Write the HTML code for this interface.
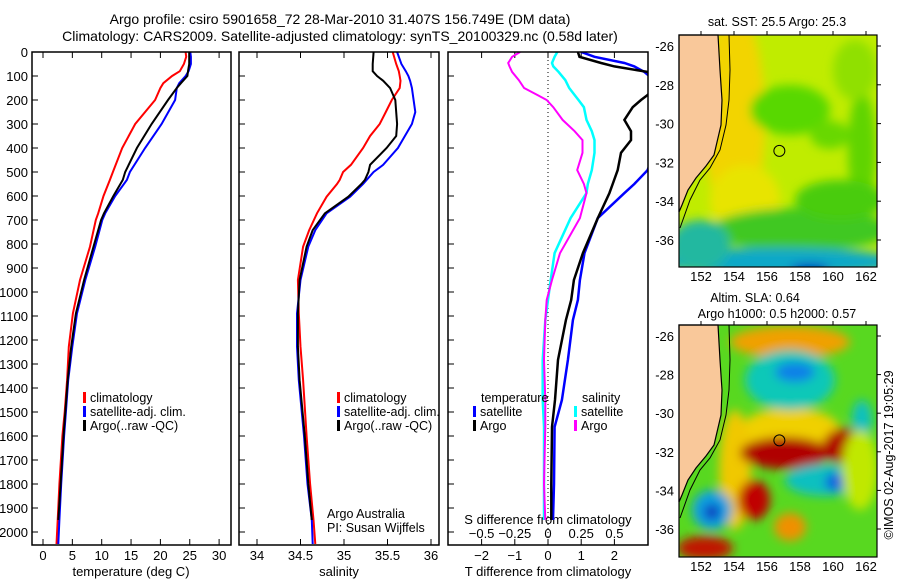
<!DOCTYPE html>
<html><head><meta charset="utf-8">
<style>
html,body{margin:0;padding:0;background:#fff;}
svg{display:block;font-family:"Liberation Sans",sans-serif;}
text{font-size:12.5px;fill:#000;}
</style></head>
<body>
<svg id="chart" width="900" height="580" viewBox="0 0 900 580" xmlns="http://www.w3.org/2000/svg">
<defs>
<filter id="blur6" x="-20%" y="-20%" width="140%" height="140%"><feGaussianBlur stdDeviation="5"/></filter>
<clipPath id="clipP1"><rect x="32" y="52" width="199" height="493"/></clipPath>
<clipPath id="clipP2"><rect x="239" y="52" width="200" height="493"/></clipPath>
<clipPath id="clipP3"><rect x="448" y="52" width="200" height="493"/></clipPath>
<clipPath id="clipM1"><rect x="679" y="35" width="198" height="232"/></clipPath>
<clipPath id="clipM2"><rect x="679" y="325" width="198" height="232"/></clipPath>
</defs>
<text x="340" y="24" text-anchor="middle" style="font-size:14px">Argo profile: csiro 5901658_72 28-Mar-2010 31.407S 156.749E (DM data)</text>
<text x="340" y="41" text-anchor="middle" style="font-size:14px">Climatology: CARS2009. Satellite-adjusted climatology: synTS_20100329.nc (0.58d later)</text>

<g id="maps">
 <g clip-path="url(#clipM1)">
  <rect x="679" y="35" width="198" height="232" fill="#c0ec00"/>
  <g filter="url(#blur6)">
   <ellipse cx="735" cy="120" rx="30" ry="110" fill="#f2d400"/>
   <ellipse cx="745" cy="200" rx="35" ry="35" fill="#e8e400"/>
   <ellipse cx="790" cy="110" rx="40" ry="25" fill="#58d800"/>
   <ellipse cx="830" cy="135" rx="20" ry="14" fill="#68d800"/>
   <ellipse cx="862" cy="150" rx="14" ry="60" fill="#60d400"/>
   <ellipse cx="855" cy="70" rx="22" ry="30" fill="#90e000"/>
   <ellipse cx="800" cy="230" rx="90" ry="22" fill="#40c820"/>
   <ellipse cx="840" cy="200" rx="45" ry="20" fill="#48cc10"/>
   <ellipse cx="780" cy="262" rx="120" ry="14" fill="#10a8c8"/>
   <ellipse cx="700" cy="245" rx="30" ry="25" fill="#20b8a0"/>
   <ellipse cx="810" cy="270" rx="20" ry="6" fill="#0030c0"/>
  </g>
 </g>
 <g clip-path="url(#clipM2)">
  <rect x="679" y="325" width="198" height="232" fill="#58d820"/>
  <g filter="url(#blur6)">
   <ellipse cx="790" cy="342" rx="60" ry="16" fill="#f0a000"/>
   <ellipse cx="790" cy="430" rx="50" ry="22" fill="#f0d000"/>
   <ellipse cx="735" cy="470" rx="16" ry="60" fill="#f0c800"/>
   <ellipse cx="790" cy="380" rx="45" ry="30" fill="#10c8b8"/>
   <ellipse cx="795" cy="372" rx="20" ry="10" fill="#1080e8"/>
   <ellipse cx="785" cy="453" rx="45" ry="16" fill="#b00000"/>
   <ellipse cx="845" cy="446" rx="22" ry="18" fill="#b00000"/>
   <ellipse cx="825" cy="480" rx="40" ry="16" fill="#10c0c0"/>
   <ellipse cx="835" cy="482" rx="10" ry="9" fill="#1060e0"/>
   <ellipse cx="754" cy="500" rx="16" ry="20" fill="#c00000"/>
   <ellipse cx="712" cy="510" rx="20" ry="20" fill="#10a0e0"/>
   <ellipse cx="712" cy="512" rx="8" ry="8" fill="#1030c0"/>
   <ellipse cx="790" cy="527" rx="16" ry="14" fill="#f09000"/>
   <ellipse cx="705" cy="548" rx="28" ry="12" fill="#c01800"/>
   <ellipse cx="862" cy="420" rx="10" ry="20" fill="#10c0c0"/>
   <ellipse cx="860" cy="470" rx="18" ry="40" fill="#c0e800"/>
  </g>
 </g>
</g>
<g id="plots"></g>
<text transform="translate(893,455) rotate(-90)" text-anchor="middle">©IMOS 02-Aug-2017 19:05:29</text>
</svg>
<script>
// ---------- data ----------
const tempDepth = [0,20,50,80,100,130,150,200,300,400,500,533,600,672,700,811,950,1089,1228,1367,1500,1600,1800,1950,2050];
const tempClim  = [24.3,24.4,24.0,23.3,22.0,20.5,20.0,19.1,15.7,13.5,11.9,11.4,10.3,9.4,9.0,8.0,6.3,5.1,4.4,4.1,3.7,3.3,2.8,2.5,2.3];
const tempSat   = [25.1,25.2,25.2,24.8,24.3,23.2,22.8,22.5,20.2,17.4,14.8,14.3,12.3,10.6,10.1,8.9,7.2,5.8,5.0,4.3,3.9,3.6,3.1,2.8,2.6];
const tempArgo  = [24.9,24.9,24.9,24.7,24.6,23.5,22.8,21.3,18.5,16.0,14.0,13.6,12.0,10.4,9.9,8.6,7.0,5.6,4.8,4.2,3.8,3.5,3.0,2.6,null];
const salDepth = [0,50,80,100,120,150,200,250,300,350,400,470,500,533,550,603,672,742,811,950,1089,1228,1367,1600,1800,1950,2050];
const salClim  = [35.56,35.6,35.63,35.64,35.65,35.64,35.55,35.48,35.41,35.3,35.22,35.08,34.99,34.95,34.92,34.8,34.69,34.6,34.53,34.47,34.48,34.5,34.53,34.57,34.61,34.65,34.67];
const salSat   = [35.61,35.66,35.71,35.74,35.76,35.78,35.8,35.82,35.78,35.7,35.62,35.45,35.34,35.26,35.22,35.07,34.8,34.67,34.59,34.5,34.46,34.46,34.48,34.54,34.58,34.63,34.64];
const salArgo  = [35.34,35.33,35.33,35.38,35.45,35.53,35.59,35.6,35.61,35.6,35.49,35.3,35.28,35.24,35.2,35.05,34.78,34.64,34.57,34.49,34.47,34.47,34.49,34.55,34.59,34.63,null];
const diffDepth = [0,20,46,60,83,117,150,179,200,230,283,330,367,420,492,550,588,692,838,950,1033,1117,1283,1450,1562,1800,1950];
const dTSat  = [1.0,1.4,2.3,2.6,2.9,3.2,3.6,3.6,3.6,3.6,3.6,3.5,3.4,3.2,3.0,2.6,2.3,1.5,1.1,0.96,0.9,0.75,0.6,0.42,0.2,0.18,0.15];
const dTArgo = [0.9,0.95,1.6,2.0,3.0,3.2,3.2,3.0,2.8,2.55,2.3,2.5,2.5,2.2,2.1,1.95,1.85,1.5,1.05,0.78,0.7,0.54,0.3,0.21,0.12,0.1,0.1];
const dSSat  = [0.07,0.05,0.03,0.04,0.08,0.13,0.16,0.2,0.23,0.27,0.29,0.33,0.35,0.35,0.33,0.3,0.29,0.17,0.05,0.02,0.0,-0.02,-0.04,-0.04,-0.03,-0.03,-0.03];
const dSArgo = [-0.21,-0.27,-0.3,-0.29,-0.27,-0.22,-0.18,-0.08,-0.01,0.04,0.11,0.2,0.26,0.26,0.22,0.27,0.29,0.24,0.09,0.03,-0.01,-0.02,-0.03,-0.02,-0.02,-0.03,-0.02];
const depthTicks = [0,100,200,300,400,500,600,700,800,900,1000,1100,1200,1300,1400,1500,1600,1700,1800,1900,2000];
const tempTicks = [0,5,10,15,20,25,30];
const salTicks = [34,34.5,35,35.5,36];
const dTTicks = [-2,-1,0,1,2];
const dSTicks = [-0.5,-0.25,0,0.25,0.5];
const dSTickLabels = ["-0.5","-0.25","0","0.25","0.5"];
const lonTicks = [152,154,156,158,160,162];
const latTicks = [-26,-28,-30,-32,-34,-36];
const argoPos = [156.749,-31.407];

// ---------- axis functions ----------
const yD = d => 52 + d*0.24;
const xT = t => 43 + t*5.87;
const xS = s => 257 + (s-34)*87;
const xDT = t => 548 + t*33.2;
const xDS = s => 548 + s*132.8;
const mLon = l => 701 + (l-152)*16.5;
const mLat1 = l => 46 + (-26 - l)*19.4;
const mLat2 = l => 336 + (-26 - l)*19.3;

const NS = "http://www.w3.org/2000/svg";
const root = document.getElementById('plots');
function mk(tag, attrs, parent){const e=document.createElementNS(NS,tag);for(const k in attrs)e.setAttribute(k,attrs[k]);(parent||root).appendChild(e);return e;}
function txt(s,x,y,anchor,parent,size){const e=mk('text',{x:x,y:y,'text-anchor':anchor||'start'},parent);if(size)e.style.fontSize=size;e.textContent=s;return e;}
function line(xs, depths, fx, color, w, clip, name){
  let d='';let pen=false;
  for(let i=0;i<depths.length;i++){ if(xs[i]==null){pen=false;continue;} d+=(pen?'L':'M')+fx(xs[i]).toFixed(1)+','+yD(depths[i]).toFixed(1); pen=true;}
  const p=mk('path',{d:d,fill:'none',stroke:color,'stroke-width':w,'clip-path':'url(#'+clip+')'});
  
  
  return p;
}
function frame(x,y,w,h,name){const r=mk('rect',{x:x,y:y,width:w,height:h,fill:'none',stroke:'#000','stroke-width':1.5});
  
  }
function legendItem(x,y,color,label,g){mk('rect',{x:x,y:y-10,width:3,height:11,fill:color},g);txt(label,x+7,y,'start',g);}

// panel 1
const g1=mk('g',{});


depthTicks.forEach(d=>{mk('line',{x1:32,x2:38,y1:yD(d),y2:yD(d),stroke:'#000'},g1);mk('line',{x1:239,x2:245,y1:yD(d),y2:yD(d),stroke:'#000'},g1);mk('line',{x1:448,x2:454,y1:yD(d),y2:yD(d),stroke:'#000'},g1);
  const t=txt(String(d),28,yD(d)+5,'end',g1,'13px');
  
  });
tempTicks.forEach(t=>{mk('line',{x1:xT(t),x2:xT(t),y1:545,y2:539,stroke:'#000'},g1);mk('line',{x1:xT(t),x2:xT(t),y1:52,y2:58,stroke:'#000'},g1);
  const e=txt(String(t),xT(t),560,'middle',g1,'13px');
  
  });
line(tempClim,tempDepth,xT,'#ff0000',2,'clipP1','temp-climatology-line');
line(tempSat,tempDepth,xT,'#0000ff',2,'clipP1','temp-satellite-line');
line(tempArgo,tempDepth,xT,'#000000',2,'clipP1','temp-argo-line');
frame(32,52,199,493,'temperature-frame');
txt('temperature (deg C)',131,576,'middle',g1,'13px');
const lg1=mk('g',{});


legendItem(83,402,'#ff0000','climatology',lg1);legendItem(83,416,'#0000ff','satellite-adj. clim.',lg1);legendItem(83,430,'#000000','Argo(..raw -QC)',lg1);

// panel 2
const g2=mk('g',{});


salTicks.forEach(s=>{mk('line',{x1:xS(s),x2:xS(s),y1:545,y2:539,stroke:'#000'},g2);mk('line',{x1:xS(s),x2:xS(s),y1:52,y2:58,stroke:'#000'},g2);
  const e=txt(String(s),xS(s),560,'middle',g2,'13px');
  
  });
line(salClim,salDepth,xS,'#ff0000',2,'clipP2','sal-climatology-line');
line(salSat,salDepth,xS,'#0000ff',2,'clipP2','sal-satellite-line');
line(salArgo,salDepth,xS,'#000000',2,'clipP2','sal-argo-line');
frame(239,52,200,493,'salinity-frame');
txt('salinity',339,576,'middle',g2,'13px');
const lg2=mk('g',{});


legendItem(337,402,'#ff0000','climatology',lg2);legendItem(337,416,'#0000ff','satellite-adj. clim.',lg2);legendItem(337,430,'#000000','Argo(..raw -QC)',lg2);
txt('Argo Australia',327,518,'start',g2);txt('PI: Susan Wijffels',327,532,'start',g2);

// panel 3
const g3=mk('g',{});


mk('line',{x1:548,x2:548,y1:52,y2:545,stroke:'#000','stroke-dasharray':'1,3'},g3);
dTTicks.forEach(t=>{mk('line',{x1:xDT(t),x2:xDT(t),y1:545,y2:539,stroke:'#000'},g3);mk('line',{x1:xDT(t),x2:xDT(t),y1:52,y2:58,stroke:'#000'},g3);
  const e=txt(String(t).replace('-','\u2212'),xDT(t),560,'middle',g3,'13px');
  
  });
dSTicks.forEach((s,i)=>{const e=txt(dSTickLabels[i].replace('-','\u2212'),xDS(s),538,'middle',g3,'13px');
  
  });
line(dSSat,diffDepth,xDS,'#00ffff',2.5,'clipP3','sdiff-satellite-line');
line(dSArgo,diffDepth,xDS,'#ff00ff',2,'clipP3','sdiff-argo-line');
line(dTSat,diffDepth,xDT,'#0000ff',2.5,'clipP3','tdiff-satellite-line');
line(dTArgo,diffDepth,xDT,'#000000',2.5,'clipP3','tdiff-argo-line');
frame(448,52,200,493,'difference-frame');
txt('S difference from climatology',548,524,'middle',g3,'13px');
txt('T difference from climatology',548,576,'middle',g3,'13px');
const lg3=mk('g',{});


txt('temperature',481,402,'start',lg3);
legendItem(473,416,'#0000ff','satellite',lg3);legendItem(473,430,'#000000','Argo',lg3);
txt('salinity',582,402,'start',lg3);
legendItem(574,416,'#00ffff','satellite',lg3);legendItem(574,430,'#ff00ff','Argo',lg3);

// maps
function drawMap(top, latF, name, t1, t2){
  const g=mk('g',{});
  
  
  const o=top-35;
  const land=[[679,35],[718,35],[720,70],[722,100],[721,125],[714,155],[706,166],[696,178],[688,190],[682,205],[679,212]];
  mk('polygon',{points:land.map(p=>p[0]+','+(p[1]+o)).join(' '),fill:'#f9c89a',stroke:'#000','stroke-width':1.2},g);
  const iso=[[729,35],[730,70],[729,100],[726,125],[720,150],[710,168],[700,180],[690,200],[680,228]];
  mk('polyline',{points:iso.map(p=>p[0]+','+(p[1]+o)).join(' '),fill:'none',stroke:'#000','stroke-width':1},g);
  mk('circle',{cx:mLon(argoPos[0]),cy:latF(argoPos[1]),r:5.5,fill:'none',stroke:'#000','stroke-width':1},g);
  mk('rect',{x:679,y:top,width:198,height:232,fill:'none',stroke:'#000','stroke-width':1.2},g);
  lonTicks.forEach(l=>{mk('line',{x1:mLon(l),x2:mLon(l),y1:top,y2:top-4,stroke:'#000'},g);const e=txt(String(l),mLon(l),top+246,'middle',g,'13px');
    
    });
  latTicks.forEach(l=>{mk('line',{x1:877,x2:881,y1:latF(l),y2:latF(l),stroke:'#000'},g);const e=txt(String(l),674,latF(l)+5,'end',g,'13px');
    
    });
  txt(t1[0],t1[1],t1[2],'middle',g);
  if(t2)txt(t2[0],t2[1],t2[2],'middle',g);
}
drawMap(35,mLat1,'sst-map-axes',['sat. SST: 25.5 Argo: 25.3',777,26]);
drawMap(325,mLat2,'sla-map-axes',['Altim. SLA: 0.64',755,302],['Argo h1000: 0.5 h2000: 0.57',777,318]);
</script>
</body></html>
